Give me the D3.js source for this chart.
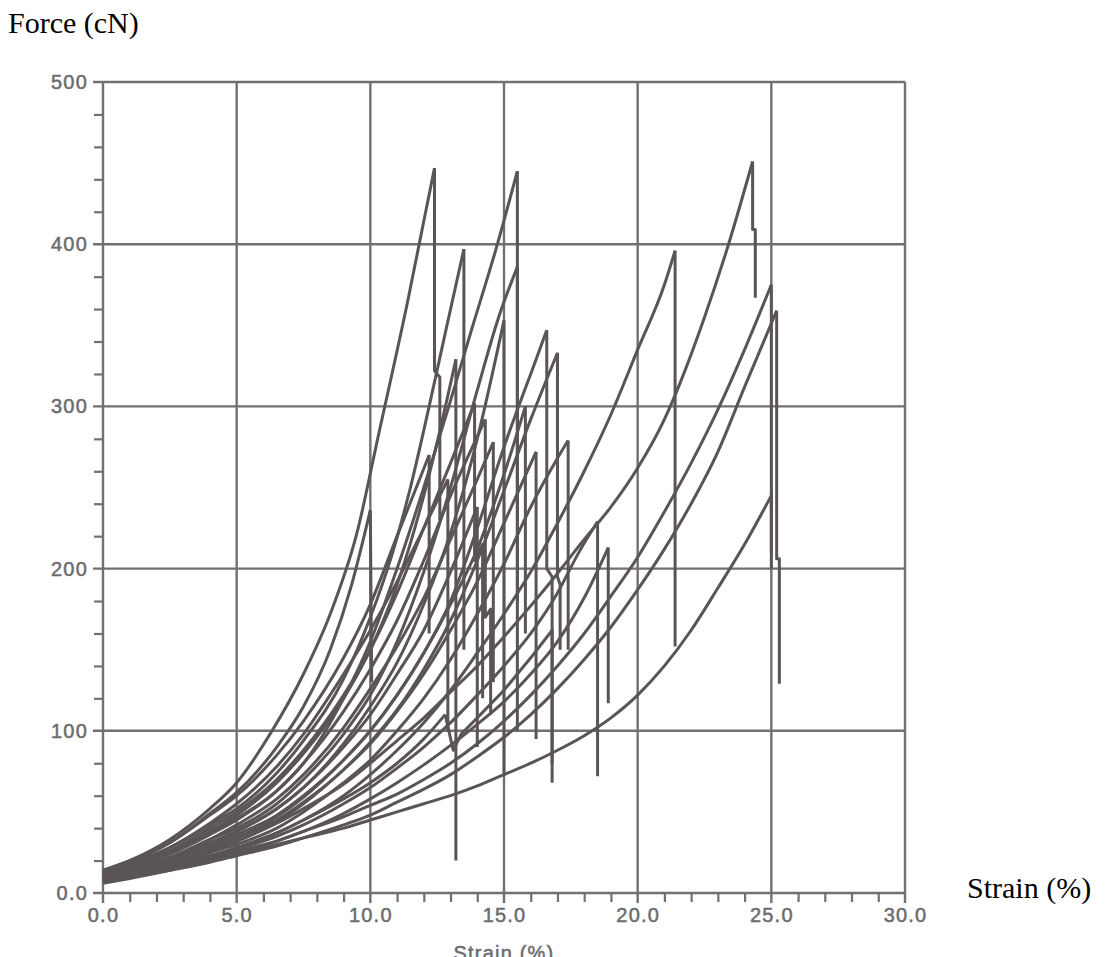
<!DOCTYPE html>
<meta charset="utf-8">
<style>
    body { margin: 0; background: #fff; }
    svg { display: block; background: #fff; }
    .lbl { font-family: "Liberation Sans", Arial, sans-serif; font-size: 20px; fill: #6c6c6c; stroke: #6c6c6c; stroke-width: 0.5px; letter-spacing: 1.2px; }
    .ttl { font-family: "Liberation Serif", "Times New Roman", serif; font-size: 30px; fill: #000; }
</style>
<body>
<svg width="1111" height="957"></svg>
<script src="https://d3js.org/d3.v7.min.js"></script>
<script>
// tick values
var xTicks = [0, 5, 10, 15, 20, 25, 30];
var xTickLabels = ["0.0", "5.0", "10.0", "15.0", "20.0", "25.0", "30.0"];
var yTicks = [0, 100, 200, 300, 400, 500];
var yTickLabels = ["0.0", "100", "200", "300", "400", "500"];
var xMinor = [1, 2, 3, 4, 6, 7, 8, 9, 11, 12, 13, 14, 16, 17, 18, 19, 21, 22, 23, 24, 26, 27, 28, 29];
var yMinor = [20, 40, 60, 80, 120, 140, 160, 180, 220, 240, 260, 280, 320, 340, 360, 380, 420, 440, 460, 480];

// force-strain curves: [strain %, force cN]
var c01 = [[0,14],[1,20],[2.5,33],[4,52],[5,68],[6.25,98],[7.5,135],[8.5,172],[9.5,222],[10.3,282],[11.4,365],[12.4,447],[12.4,322],[12.6,318],[12.6,230]];
var c02 = [[0,13],[1,19],[2.5,31],[4,49],[5,62],[6.5,90],[7.5,115],[8.5,150],[9.3,190],[10,236],[10.05,130]];
var c03 = [[0,14],[1,20],[2.5,31],[4,48],[5,60],[6.5,85],[7.5,106],[9,145],[10,178],[11,220],[12.2,270],[12.2,160]];
var c04 = [[0,12],[1,18],[2.5,28],[4,43],[5,55],[6.5,78],[7.5,98],[9,135],[10,162],[11,192],[12,225],[12.9,255],[12.9,100]];
var c05 = [[0,13],[1,18],[2.5,28],[4,42],[5,52],[6.5,74],[7.5,94],[9,132],[10,170],[10.8,208],[11.5,250],[12.2,300],[12.8,345],[13.5,397],[13.5,150]];
var c06 = [[0,11],[1,16],[2.5,25],[4,38],[5,48],[6.5,68],[7.5,86],[9,120],[10,150],[11,190],[12,245],[12.6,285],[13.2,329],[13.2,20]];
var c07 = [[0,12],[1,17],[2.5,26],[4,40],[5,50],[6.5,70],[7.5,88],[9,122],[10,150],[11,185],[12,225],[13,265],[13.9,302],[13.9,205],[14.2,215],[14.2,120]];
var c08 = [[0,12],[1,17],[2.5,25],[4,37],[5,46],[6.5,63],[7.5,80],[9,120],[10,155],[11,200],[12,250],[12.9,298],[13.8,348],[14.7,397],[15.5,445],[15.5,180]];
var c09 = [[0,10],[1,15],[2.5,22],[4,33],[5,40],[6.5,55],[7.5,70],[9,98],[10,122],[11,155],[12,198],[13,250],[14,310],[14.8,355],[15.5,386],[15.5,100]];
var c10 = [[0,9],[1,14],[2.5,21],[4,31],[5,38],[6.5,52],[7.5,65],[9,92],[10,115],[11,142],[12,178],[13,222],[14,280],[15,353],[15,72]];
var c11 = [[0,11],[1,16],[2.5,24],[4,36],[5,45],[6.5,63],[7.5,80],[9,112],[10,138],[11,168],[12,205],[13,245],[14.3,292],[14.3,170],[14.5,175],[14.5,110]];
var c12 = [[0,10],[1,15],[2.5,22],[4,33],[5,42],[6.5,58],[7.5,73],[9,102],[10,126],[11,152],[12,182],[13,218],[14,255],[14.6,278],[14.6,130]];
var c13 = [[0,9],[1,14],[2.5,20],[4,30],[5,38],[6.5,52],[7.5,65],[9,90],[10,110],[11,135],[12,162],[13,198],[14,238],[14,90]];
var c14 = [[0,9],[1,13],[2.5,19],[4,28],[5,34],[6.5,47],[7.5,59],[9,82],[10,100],[11,122],[12,148],[13,178],[14,212],[15,258],[15.8,300],[15.8,160]];
var c15 = [[0,8],[1,12],[2.5,18],[4,26],[5,32],[6.5,44],[7.5,55],[9,76],[10,92],[11,112],[12,135],[13,162],[14,192],[15,228],[16.2,272],[16.2,95]];
var c16 = [[0,10],[1,14],[2.5,20],[4,29],[5,36],[6.5,48],[7.5,60],[9,82],[10,100],[11,122],[12,148],[13,180],[14,225],[15,275],[15.5,298],[16,320],[16.6,347],[16.6,200],[16.8,195],[16.8,68]];
var c17 = [[0,9],[1,13],[2.5,19],[4,27],[5,34],[6.5,45],[7.5,56],[9,76],[10,93],[11,113],[12,138],[13,168],[14,205],[15,248],[16,292],[17,333],[17,195],[17.1,190],[17.1,150]];
var c18 = [[0,8],[1,12],[2.5,17],[4,25],[5,30],[6.5,40],[7.5,50],[9,68],[10,82],[11,100],[12,120],[13,144],[14,172],[15,203],[16,238],[17,268],[17.4,279],[17.4,150]];
var c19 = [[0,7],[1,11],[2.5,16],[4,23],[5,28],[6.5,37],[7.5,45],[9,58],[10,68],[11,80],[12,95],[12.8,110],[13.1,88],[13.4,98],[14,108],[15,125],[16,145],[16.8,162],[16.8,80]];
var c20 = [[0,8],[1,11],[2.5,16],[4,22],[5,27],[6.5,35],[7.5,42],[9,55],[10,65],[11,77],[12,90],[13,105],[14,122],[15,140],[16,160],[17,185],[17.8,210],[18.5,229],[18.5,72]];
var c21 = [[0,7],[1,10],[2.5,15],[4,21],[5,25],[6.5,32],[7.5,38],[9,49],[10,58],[11,68],[12,79],[13,91],[14,104],[15,118],[16,135],[17,155],[18,182],[18.9,213],[18.9,117]];
var c22 = [[0,8],[1,11],[2.5,16],[4,23],[5,28],[6.5,37],[7.5,45],[9,60],[10,73],[11,88],[12,105],[13,125],[14,148],[15,172],[16,198],[17,228],[18,260],[19,295],[20,335],[21,375],[21.4,396],[21.4,152]];
var c23 = [[0,9],[1,13],[2.5,18],[4,26],[5,32],[6.5,43],[7.5,52],[9,67],[10,80],[11,94],[12,108],[13,124],[14,140],[15,158],[16,177],[17,197],[18,218],[19,238],[20,262],[21,292],[21.6,315],[22.5,355],[23.4,400],[24.3,451],[24.3,409],[24.4,409],[24.4,367]];
var c24 = [[0,8],[1,11],[2.5,15],[4,21],[5,26],[6.5,32],[7.5,38],[9,47],[10,54],[11,61],[12,70],[13,80],[14,92],[15,106],[16,122],[17,140],[18,160],[19,183],[20,207],[21,235],[22,265],[23,298],[24,335],[25,375],[25,210]];
var c25 = [[0,7],[1,10],[2.5,14],[4,19],[5,23],[6.5,29],[7.5,34],[9,42],[10,48],[11,56],[12,64],[13,73],[14,84],[15,96],[16,110],[17,126],[18,144],[19,164],[20,187],[21,212],[22,240],[23,272],[24,312],[25.2,359],[25.2,206],[25.3,206],[25.3,129]];
var c26 = [[0,6],[1,9],[2.5,14],[4,20],[5,24],[6.5,30],[7.5,34],[9,40],[10,45],[11,50],[12,55],[13,60],[14,66],[15,73],[16,80],[17,88],[18,97],[19,108],[20,122],[21,140],[22,162],[23,188],[24,215],[25,245],[25,200]];

var curves = [c01, c02, c03, c04, c05, c06, c07, c08, c09, c10, c11, c12, c13,
              c14, c15, c16, c17, c18, c19, c20, c21, c22, c23, c24, c25, c26];

var svg = d3.select("svg");

var x = d3.scaleLinear().domain([0, 30]).range([103, 905]),
    y = d3.scaleLinear().domain([0, 500]).range([893, 82]);

var gridColor = "#727070";

// grid lines (major ticks run past the axes a little)
svg.append("g").selectAll("line")
    .data(yTicks)
    .enter().append("line")
    .attr("x1", x(0) - 10).attr("x2", x(30))
    .attr("y1", function (d) { return y(d); })
    .attr("y2", function (d) { return y(d); })
    .attr("stroke", gridColor).attr("stroke-width", 2.4);

svg.append("g").selectAll("line")
    .data(xTicks)
    .enter().append("line")
    .attr("x1", function (d) { return x(d); })
    .attr("x2", function (d) { return x(d); })
    .attr("y1", y(500)).attr("y2", y(0) + 10)
    .attr("stroke", gridColor).attr("stroke-width", 2.4);

// minor ticks
var yMinorAxis = d3.axisLeft(y).tickValues(yMinor).tickSize(9).tickSizeOuter(0).tickFormat("");
var xMinorAxis = d3.axisBottom(x).tickValues(xMinor).tickSize(9).tickSizeOuter(0).tickFormat("");

svg.append("g").attr("transform", "translate(" + x(0) + ",0)").call(yMinorAxis);
svg.append("g").attr("transform", "translate(0," + y(0) + ")").call(xMinorAxis);

svg.selectAll(".domain").remove();
svg.selectAll(".tick line").attr("stroke", gridColor).attr("stroke-width", 2.2);

// tick labels
var yAxis = d3.axisLeft(y).tickValues(yTicks).tickSize(0).tickPadding(15)
    .tickFormat(function (d, i) { return yTickLabels[i]; });
var xAxis = d3.axisBottom(x).tickValues(xTicks).tickSize(0).tickPadding(15)
    .tickFormat(function (d, i) { return xTickLabels[i]; });

var ya = svg.append("g").attr("transform", "translate(" + x(0) + ",0)").call(yAxis);
var xa = svg.append("g").attr("transform", "translate(0," + y(0) + ")").call(xAxis);
[ya, xa].forEach(function (g) {
    g.select(".domain").remove();
    g.selectAll("text").attr("class", "lbl").attr("fill", null);
    g.attr("font-family", null).attr("font-size", null);
});

// curves: smooth rising branch, straight drops after the break
var rise = d3.line().curve(d3.curveMonotoneX)
    .x(function (d) { return x(d[0]); })
    .y(function (d) { return y(d[1]); });
var drop = d3.line()
    .x(function (d) { return x(d[0]); })
    .y(function (d) { return y(d[1]); });

var lineColor = "#5a5458";
var lines = svg.append("g");
curves.forEach(function (c) {
    var k = 1;
    while (k < c.length && c[k][0] > c[k - 1][0] && c[k][1] >= c[k - 1][1]) k++;
    lines.append("path").attr("d", rise(c.slice(0, k)))
        .attr("fill", "none").attr("stroke", lineColor).attr("stroke-width", 3)
        .attr("stroke-linejoin", "round");
    if (k < c.length) {
        lines.append("path").attr("d", drop(c.slice(k - 1)))
            .attr("fill", "none").attr("stroke", lineColor).attr("stroke-width", 3)
            .attr("stroke-linejoin", "round");
    }
});

// titles
svg.append("text").attr("class", "ttl").attr("x", 8).attr("y", 33).text("Force (cN)");
svg.append("text").attr("class", "ttl").attr("x", 967).attr("y", 898).text("Strain (%)");

// original x-axis caption, cut off by the scan edge
svg.append("text").attr("class", "lbl")
    .attr("x", x(15)).attr("y", 960)
    .attr("text-anchor", "middle")
    .text("Strain (%)");
</script>
</body>
